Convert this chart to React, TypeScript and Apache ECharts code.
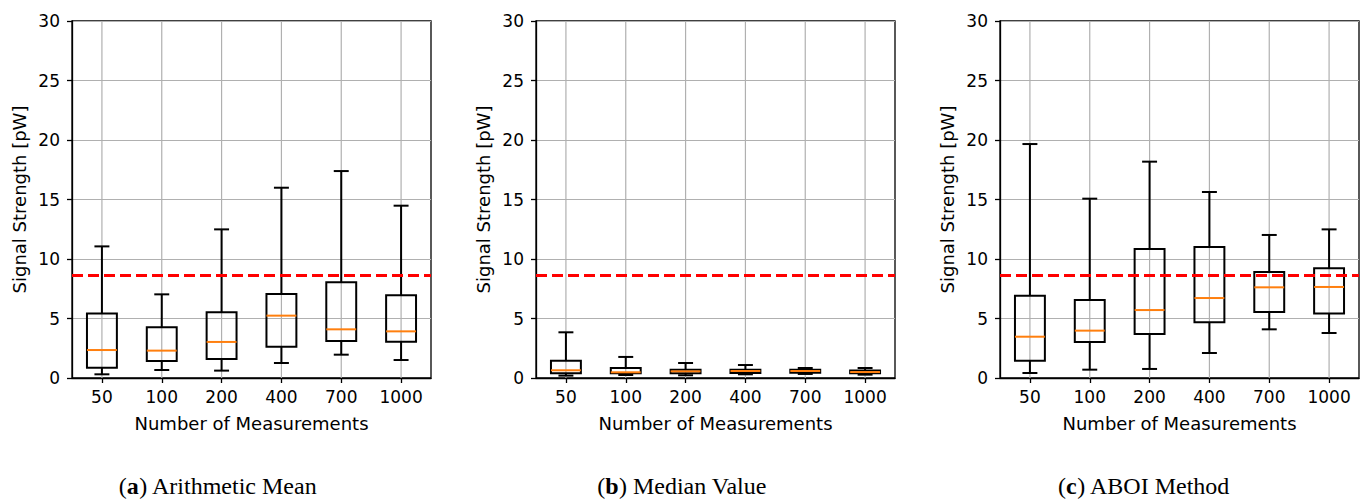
import React, { useEffect, useRef } from "react";
import * as echarts from "echarts";

const categories = ["50", "100", "200", "400", "700", "1000"];

// [low whisker, Q1, median, Q3, high whisker]
const meanStats = [
  [0.31, 0.87, 2.35, 5.41, 11.06],
  [0.67, 1.43, 2.3, 4.26, 7.03],
  [0.62, 1.6, 3.03, 5.52, 12.49],
  [1.26, 2.63, 5.24, 7.06, 15.99],
  [1.96, 3.11, 4.09, 8.04, 17.39],
  [1.51, 3.05, 3.92, 6.95, 14.48],
];

const medianStats = [
  [0.2, 0.39, 0.65, 1.46, 3.84],
  [0.25, 0.39, 0.48, 0.84, 1.77],
  [0.23, 0.39, 0.56, 0.7, 1.26],
  [0.31, 0.42, 0.59, 0.7, 1.09],
  [0.34, 0.45, 0.59, 0.7, 0.84],
  [0.28, 0.39, 0.5, 0.62, 0.84],
];

const aboiStats = [
  [0.42, 1.46, 3.47, 6.92, 19.66],
  [0.7, 3.03, 3.98, 6.55, 15.07],
  [0.76, 3.7, 5.71, 10.84, 18.18],
  [2.1, 4.68, 6.72, 11.01, 15.63],
  [4.09, 5.55, 7.62, 8.91, 12.02],
  [3.78, 5.41, 7.65, 9.22, 12.49],
];

const threshold = 8.6;
const yTicks = [0, 5, 10, 15, 20, 25, 30];

const captions = [
  { tag: "a", text: "Arithmetic Mean", x: 218 },
  { tag: "b", text: "Median Value", x: 682 },
  { tag: "c", text: "ABOI Method", x: 1144 },
];

const panelLefts = [72, 536, 1000];
const PANEL_W = 359;
const PANEL_TOP = 21;
const PANEL_H = 357;

const FONT = "DejaVu Sans";
const SERIF = "Liberation Serif";

function renderBox(params: any, api: any) {
  const idx = api.value(0);
  const low = api.value(1);
  const q1 = api.value(2);
  const med = api.value(3);
  const q3 = api.value(4);
  const high = api.value(5);
  const cx = api.coord([idx, 0])[0];
  const bw = api.size([1, 0])[0] * 0.5;
  const cw = bw * 0.5;
  const yLow = api.coord([idx, low])[1];
  const yQ1 = api.coord([idx, q1])[1];
  const yMed = api.coord([idx, med])[1];
  const yQ3 = api.coord([idx, q3])[1];
  const yHigh = api.coord([idx, high])[1];
  const yBottom = api.coord([idx, 0])[1];
  const yTop = api.coord([idx, 30])[1];
  const black = { stroke: "#000", lineWidth: 2, fill: null };
  return {
    type: "group",
    children: [
      {
        type: "line",
        shape: { x1: cx, y1: yBottom, x2: cx, y2: yTop },
        style: { stroke: "#b0b0b0", lineWidth: 1.2 },
        z2: 0,
      },
      { type: "line", shape: { x1: cx, y1: yLow, x2: cx, y2: yQ1 }, style: black, z2: 5 },
      { type: "line", shape: { x1: cx, y1: yQ3, x2: cx, y2: yHigh }, style: black, z2: 5 },
      { type: "line", shape: { x1: cx - cw / 2, y1: yLow, x2: cx + cw / 2, y2: yLow }, style: black, z2: 5 },
      { type: "line", shape: { x1: cx - cw / 2, y1: yHigh, x2: cx + cw / 2, y2: yHigh }, style: black, z2: 5 },
      {
        type: "rect",
        shape: { x: cx - bw / 2, y: yQ3, width: bw, height: yQ1 - yQ3 },
        style: { stroke: "#000", lineWidth: 2, fill: "none" },
        z2: 5,
      },
      {
        type: "line",
        shape: { x1: cx - bw / 2, y1: yMed, x2: cx + bw / 2, y2: yMed },
        style: { stroke: "#ff7f0e", lineWidth: 2 },
        z2: 6,
      },
    ],
  };
}

export default function App() {
  const ref = useRef<HTMLDivElement>(null);

  useEffect(() => {
    document.body.style.margin = "0";
    if (!ref.current) return;
    const chart = echarts.init(ref.current, undefined, { renderer: "svg" });
    const allStats = [meanStats, medianStats, aboiStats];

    const grids = panelLefts.map((l) => ({
      left: l,
      top: PANEL_TOP,
      width: PANEL_W,
      height: PANEL_H,
      show: true,
      borderColor: "#000",
      borderWidth: 1.3,
      backgroundColor: "transparent",
      containLabel: false,
    }));

    const xAxes = panelLefts.map((_, i) => ({
      type: "category",
      gridIndex: i,
      data: categories,
      boundaryGap: true,
      name: "Number of Measurements",
      nameLocation: "middle",
      nameGap: 36,
      nameTextStyle: { fontFamily: FONT, fontSize: 18, color: "#000" },
      axisLine: { show: true, lineStyle: { color: "#000", width: 1.3 } },
      axisTick: { show: true, alignWithLabel: true, length: 5, lineStyle: { color: "#000", width: 1.3 } },
      axisLabel: { fontFamily: FONT, fontSize: 17, color: "#000", margin: 10 },
      splitLine: { show: false },
    }));

    const yAxes = panelLefts.map((_, i) => ({
      type: "value",
      gridIndex: i,
      min: yTicks[0],
      max: yTicks[yTicks.length - 1],
      interval: 5,
      name: "Signal Strength [pW]",
      nameLocation: "middle",
      nameGap: 44,
      nameTextStyle: { fontFamily: FONT, fontSize: 18, color: "#000" },
      axisLine: { show: true, lineStyle: { color: "#000", width: 1.3 } },
      axisTick: { show: true, length: 5, lineStyle: { color: "#000", width: 1.3 } },
      axisLabel: { fontFamily: FONT, fontSize: 17, color: "#000", margin: 12 },
      splitLine: { show: true, lineStyle: { color: "#b0b0b0", width: 1.2 } },
    }));

    const series = allStats.map((stats, i) => ({
      type: "custom",
      xAxisIndex: i,
      yAxisIndex: i,
      renderItem: renderBox,
      encode: { x: 0, y: [1, 2, 3, 4, 5] },
      data: stats.map((s, k) => [k, ...s]),
      z: 2,
      silent: true,
      markLine: {
        silent: true,
        symbol: "none",
        label: { show: false },
        lineStyle: { color: "#ff0000", width: 3, type: [11, 5] },
        data: [{ yAxis: threshold }],
        z: 10,
      },
    }));

    const graphic = captions.map((c) => ({
      type: "text",
      x: c.x,
      y: 486,
      style: {
        text: `({b|${c.tag}}) ${c.text}`,
        fontFamily: SERIF,
        fontSize: 24,
        fill: "#000",
        align: "center",
        verticalAlign: "middle",
        rich: {
          b: { fontFamily: SERIF, fontSize: 24, fontWeight: "bold", fill: "#000" },
        },
      },
    }));

    chart.setOption({
      animation: false,
      backgroundColor: "#fff",
      grid: grids,
      xAxis: xAxes,
      yAxis: yAxes,
      series,
      graphic,
    });
    return () => chart.dispose();
  }, []);

  return <div ref={ref} style={{ width: 1368, height: 500 }} />;
}
